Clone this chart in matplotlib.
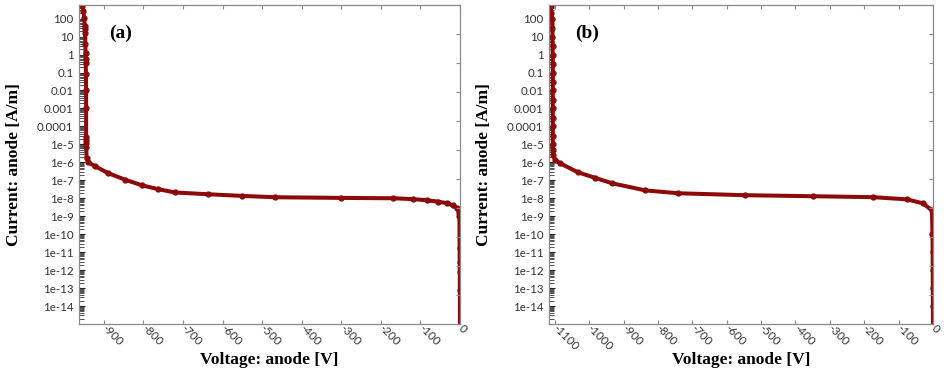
import matplotlib
matplotlib.use("Agg")
import matplotlib.pyplot as plt
import numpy as np

plt.rcParams['axes.unicode_minus'] = False

# ---------------- data ----------------
V_a = [-958, -955, -952, -950, -948.5, -948, -947.5, -947, -946.5, -946, -946,
       -945.5, -945, -945, -945, -945, -945, -944.5, -944, -939, -922, -889,
       -846, -803, -763, -720, -636, -550, -467, -300, -169, -120, -83, -55,
       -33, -18, -8, -2, -1.5, -1.0, -0.8, -0.6, -0.4, 0]
I_a = [8e2, 5.25e2, 2.75e2, 1.15e2, 41, 27.5, 15, 4.1, 1.3, 0.6, 0.32,
       0.087, 1e-2, 1e-3, 2.5e-5, 1.66e-5, 1.15e-5, 6.8e-6, 1.7e-6, 1.0e-6,
       6.0e-7, 2.5e-7, 1.07e-7, 5.2e-8, 3.2e-8, 2.1e-8, 1.67e-8, 1.35e-8,
       1.14e-8, 1.05e-8, 1.0e-8, 9.0e-9, 7.7e-9, 6.5e-9, 5.3e-9, 4.0e-9,
       2.8e-9, 1.5e-9, 1.0e-9, 1.66e-11, 2.75e-12, 7.9e-13, 7.9e-14, 1e-16]

V_b = [-1114, -1112, -1110, -1108, -1107, -1107, -1106.5, -1106.5, -1106,
       -1106, -1106, -1106, -1106, -1106, -1106, -1106, -1106, -1106, -1106,
       -1105, -1099, -1084, -1032, -983, -933, -837, -741, -547, -350, -174,
       -76, -29, -3, -1.5, -1.0, -0.8, -0.6, -0.4, 0]
I_b = [8e2, 5.25e2, 2e2, 1e2, 30, 10, 3, 1, 0.3, 0.1, 0.03, 0.01, 3e-3, 1e-3,
       3e-4, 1e-4, 3e-5, 1e-5, 5e-6, 2.5e-6, 1.29e-6, 8.7e-7, 2.75e-7,
       1.38e-7, 6.8e-8, 2.75e-8, 1.9e-8, 1.48e-8, 1.3e-8, 1.15e-8, 8.7e-9,
       5.2e-9, 2.1e-9, 1e-10, 1e-11, 1e-12, 1e-13, 1e-14, 1e-16]

xticks_a = list(range(-900, 1, 100))
xticks_b = list(range(-1100, 1, 100))
ytick_vals = [10.0 ** k for k in range(2, -15, -1)]
ytick_labels = ['100', '10', '1', '0.1', '0.01', '0.001', '0.0001', '1e-5',
                '1e-6', '1e-7', '1e-8', '1e-9', '1e-10', '1e-11', '1e-12',
                '1e-13', '1e-14']
panel_labels = ['(a)', '(b)']
xlabel = 'Voltage: anode [V]'
ylabel = 'Current: anode [A/m]'

# ---------------- figure ----------------
fig = plt.figure(figsize=(9.44, 3.75), dpi=100)
W, H = 944, 375

def axes_px(l, r, t, b):
    return fig.add_axes([l / W, 1 - b / H, (r - l) / W, (b - t) / H])

ax_a = axes_px(79, 460, 5, 324)
ax_b = axes_px(549, 933, 5, 324)

line_color = '#8c0a0a'
spine_color = '#8a8a8a'
tick_font = dict(family='Lato', size=8.3, color='#333333')
label_font = dict(family='Liberation Serif', size=12.5, weight='bold')

minor_locs = [m * 10.0 ** k for k in range(-16, 3) for m in range(2, 10)]

configs = [
    (ax_a, V_a, I_a, (-963, 0), xticks_a, panel_labels[0], 0.11, -0.15),
    (ax_b, V_b, I_b, (-1117, 0), xticks_b, panel_labels[1], 0.10, -0.148),
]

for ax, V, I, xlim, xt, plab, plx, ylx in configs:
    # right-hand ticks (secondary linear scale, unlabeled)
    axr = ax.twinx()
    axr.set_ylim(0, 11)
    axr.set_yticks(range(0, 12))
    axr.set_yticklabels([])
    axr.tick_params(axis='y', direction='in', length=3, width=0.8,
                    color=spine_color)
    for s in axr.spines.values():
        s.set_visible(False)

    ax.plot(V, I, color=line_color, lw=2.9, marker='o', ms=3.5,
            solid_joinstyle='round', solid_capstyle='round', clip_on=True)
    ax.set_yscale('log')
    ax.set_xlim(*xlim)
    ax.set_xticks(xt)
    ax.set_xticklabels([str(v) for v in xt], rotation=-45, ha='left',
                       va='center', rotation_mode='anchor', **tick_font)
    ax.set_yticks(ytick_vals)
    ax.set_yticklabels(ytick_labels, **tick_font)
    ax.yaxis.set_minor_locator(matplotlib.ticker.FixedLocator(minor_locs))
    ax.yaxis.set_minor_formatter(matplotlib.ticker.NullFormatter())
    ax.set_ylim(1e-15, 10 ** 2.76)
    ax.tick_params(axis='x', which='major', direction='in', length=3,
                   width=0.8, color=spine_color, top=True, pad=1.5)
    ax.tick_params(axis='y', which='major', direction='in', length=4.5,
                   width=0.8, color='#222222', left=True, right=False, pad=4)
    ax.tick_params(axis='y', which='minor', direction='in', length=3.5,
                   width=0.6, color='#333333', left=True, right=False)
    for s in ax.spines.values():
        s.set_color(spine_color)
        s.set_linewidth(0.9)
    ax.set_xlabel(xlabel, **label_font)
    ax.xaxis.set_label_coords(0.5, -0.088)
    ax.set_ylabel(ylabel, **label_font)
    ax.yaxis.set_label_coords(ylx, 0.5)
    ax.text(plx, 0.91, plab, transform=ax.transAxes, fontsize=14,
            family='Liberation Serif', weight='bold', ha='center', va='center')

fig.savefig('out.png', dpi=100)
